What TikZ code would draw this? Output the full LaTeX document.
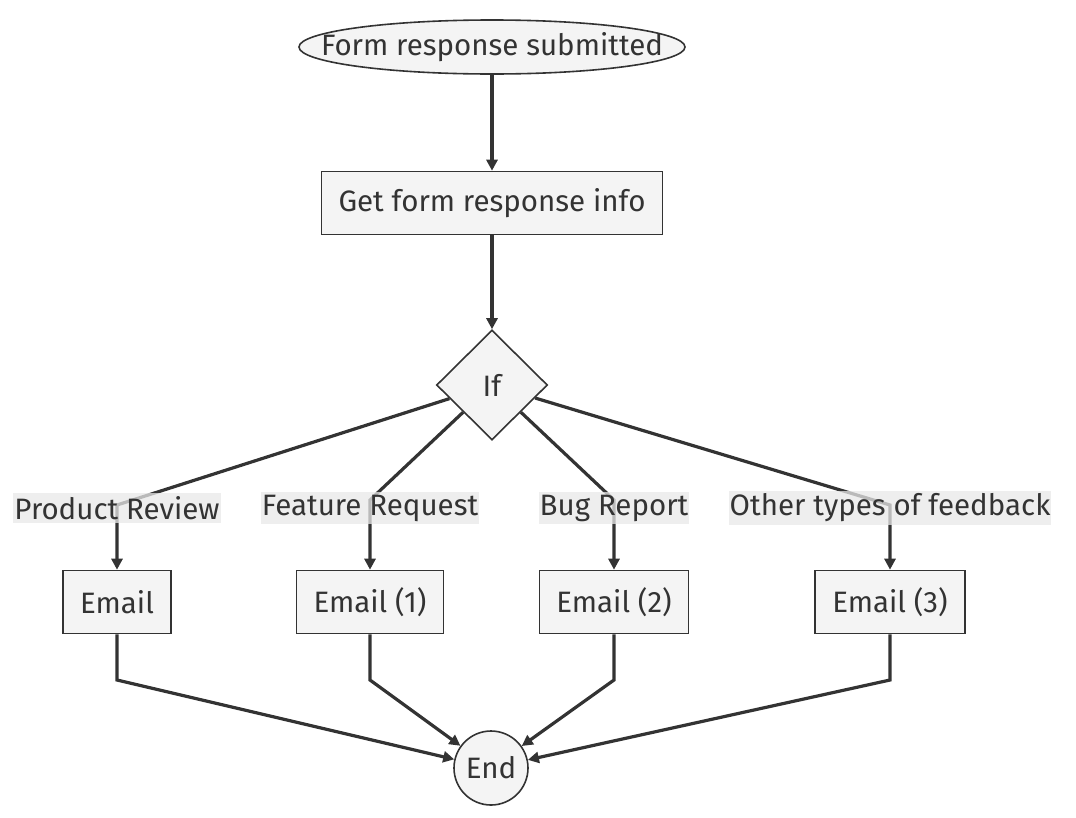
\documentclass[tikz,border=0pt]{standalone}
\usepackage{fontspec}
\setmainfont{Fira Sans}
\usepackage{tikz}
\usetikzlibrary{arrows.meta, positioning, shapes.geometric}

\definecolor{nodefill}{HTML}{F4F4F4}
\definecolor{linecol}{HTML}{333333}
\definecolor{lblfill}{HTML}{E8E8E8}

\begin{document}
\begin{tikzpicture}[
      x=1pt, y=-1pt,
      font=\fontsize{29.5}{34}\selectfont,
      box/.style  = {draw=linecol, line width=1.6pt, fill=nodefill, text=linecol,
                     minimum height=63pt, inner xsep=17pt},
      start/.style = {box, ellipse, minimum width=386pt, minimum height=54pt,
                      inner xsep=-36pt, inner ysep=-4pt},
      choice/.style = {box, diamond, minimum width=111pt, minimum height=110pt, inner sep=0pt},
      stop/.style = {box, circle, minimum size=74pt, inner sep=0pt},
      lbl/.style  = {fill=lblfill, fill opacity=0.75, text opacity=1, text=linecol,
                     inner xsep=1pt, inner ysep=3pt},
      edge/.style = {draw=linecol, line width=3.2pt, -{Triangle[length=11pt,width=11pt]}}
    ]
    \useasboundingbox (0,0) rectangle (1076,817);
    % oben: Start und Info
    \node[start]  (submit) at (492,47)  {Form response submitted};
    \node[box]    (info)   at (492,203) {Get form response info};
    \node[choice] (if)     at (492,385) {If};
    % Emails
    \node[box] (mail0) at (117,602) {Email};
    \node[box] (mail1) at (370,602) {Email (1)};
    \node[box] (mail2) at (614,602) {Email (2)};
    \node[box] (mail3) at (890,602) {Email (3)};
    \node[stop] (end) at (491,768) {End};
    % Knickpunkte
    \coordinate (k0) at (117,505);
    \coordinate (k1) at (370,500);
    \coordinate (k2) at (614,500);
    \coordinate (k3) at (890,505);
    \coordinate (m0) at (117,680);
    \coordinate (m1) at (370,680);
    \coordinate (m2) at (614,680);
    \coordinate (m3) at (890,680);
    % Verbindungen
    \draw[edge] (submit) -- (info);
    \draw[edge] (info) -- (if);
    \draw[edge] (if) -- (k0) -- (mail0);
    \draw[edge] (if) -- (k1) -- (mail1);
    \draw[edge] (if) -- (k2) -- (mail2);
    \draw[edge] (if) -- (k3) -- (mail3);
    \node[lbl] (l0) at (117,508) {Product Review};
    \node[lbl] (l1) at (370,508) {Feature Request};
    \node[lbl] (l2) at (614,508) {Bug Report};
    \node[lbl] (l3) at (890,508) {Other types of feedback};
    \draw[edge] (mail0) -- (m0) -- (end);
    \draw[edge] (mail1) -- (m1) -- (end);
    \draw[edge] (mail2) -- (m2) -- (end);
    \draw[edge] (mail3) -- (m3) -- (end);
  \end{tikzpicture}
\end{document}
